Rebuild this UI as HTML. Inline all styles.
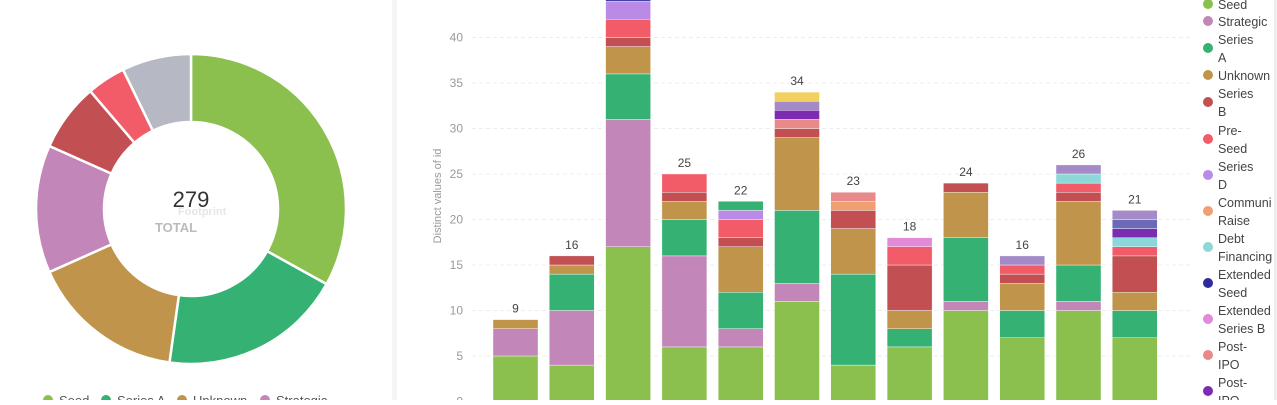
<!DOCTYPE html>
<html><head><meta charset="utf-8"><style>
body{margin:0;background:#fff;width:1277px;height:400px;overflow:hidden;font-family:"Liberation Sans",sans-serif}
</style></head><body>
<svg id="s" width="1277" height="400" xmlns="http://www.w3.org/2000/svg" font-family="Liberation Sans, sans-serif">
<rect x="0" y="0" width="1277" height="400" fill="#fff"/>
<rect x="392" y="0" width="5" height="400" fill="#f5f5f5"/>
<rect x="1274" y="0" width="3" height="400" fill="#eee"/>
</svg>
<script>
const s=document.getElementById('s');const NS='http://www.w3.org/2000/svg';
function el(t,a,txt){const e=document.createElementNS(NS,t);for(const k in a)e.setAttribute(k,a[k]);if(txt!=null)e.textContent=txt;s.appendChild(e);return e;}
const C={seed:'#8bc04f',str:'#c386b8',A:'#35b273',unk:'#c0944b',B:'#c24f52',pre:'#f25b68',D:'#b98ae6',com:'#f0a070',debt:'#8cd7d7',es:'#2c2c9c',eb:'#e08ad8',ipo:'#e88a8a',ipo2:'#7b2cb0',lav:'#a58ac8',yel:'#f2d060',gray:'#b6b9c4',blu:'#6a6ab8'};
const cx=191,cy=209,R=155,r=87;
const segs=[[0,119,C.seed],[119,188,C.A],[188,246,C.unk],[246,294,C.str],[294,319.5,C.B],[319.5,334,C.pre],[334,360,C.gray]];
function pt(a,rad){const t=(a-90)*Math.PI/180;return [cx+rad*Math.cos(t),cy+rad*Math.sin(t)];}
segs.forEach(([a0,a1,c])=>{const p1=pt(a0,R),p2=pt(a1,R),p3=pt(a1,r),p4=pt(a0,r);const l=(a1-a0)>180?1:0;
el('path',{d:`M${p1}A${R},${R} 0 ${l} 1 ${p2}L${p3}A${r},${r} 0 ${l} 0 ${p4}Z`,fill:c,stroke:'#fff','stroke-width':2.5});});
el('text',{x:191,y:207,'text-anchor':'middle','font-size':22,fill:'#333'},'279');
el('text',{x:176,y:232,'text-anchor':'middle','font-size':13,'font-weight':'bold',fill:'#bbb'},'TOTAL');
el('text',{x:178,y:215,'font-size':11,'font-weight':'bold',fill:'#e6e6e6'},'Footprint');
[[48,C.seed,'Seed'],[106,C.A,'Series A'],[182,C.unk,'Unknown'],[265,C.str,'Strategic']].forEach(([x,c,t])=>{el('circle',{cx:x,cy:400,r:5,fill:c});el('text',{x:x+11,y:405,'font-size':13,fill:'#555'},t);});
const y0=401.5,k=9.1;
for(let v=0;v<=40;v+=5){const y=y0-k*v;el('text',{x:463,y:y+4,'text-anchor':'end','font-size':12,fill:'#999'},v);
 el('line',{x1:472,x2:1190,y1:y,y2:y,stroke:'#ececec','stroke-dasharray':'4,3'});}
el('text',{x:0,y:0,transform:'translate(441,196) rotate(-90)','text-anchor':'middle','font-size':11,fill:'#999'},'Distinct values of id');
const bars=[
[['seed',5],['str',3],['unk',1]],
[['seed',4],['str',6],['A',4],['unk',1],['B',1]],
[['seed',17],['str',14],['A',5],['unk',3],['B',1],['pre',2],['D',2],['es',1]],
[['seed',6],['str',10],['A',4],['unk',2],['B',1],['pre',2]],
[['seed',6],['str',2],['A',4],['unk',5],['B',1],['pre',2],['D',1],['A',1]],
[['seed',11],['str',2],['A',8],['unk',8],['B',1],['ipo',1],['ipo2',1],['lav',1],['yel',1]],
[['seed',4],['A',10],['unk',5],['B',2],['com',1],['ipo',1]],
[['seed',6],['A',2],['unk',2],['B',5],['pre',2],['eb',1]],
[['seed',10],['str',1],['A',7],['unk',5],['B',1]],
[['seed',7],['A',3],['unk',3],['B',1],['pre',1],['lav',1]],
[['seed',10],['str',1],['A',4],['unk',7],['B',1],['pre',1],['debt',1],['lav',1]],
[['seed',7],['A',3],['unk',2],['B',4],['pre',1],['debt',1],['ipo2',1],['blu',1],['lav',1]]];
bars.forEach((b,i)=>{const x=493+i*56.3;let acc=0;b.forEach(([c,v])=>{el('rect',{x:x,y:y0-k*(acc+v),width:45,height:k*v,fill:C[c],stroke:'#fff','stroke-width':0.4});acc+=v;});
 if(i!==2)el('text',{x:x+22.5,y:y0-k*acc-7,'text-anchor':'middle','font-size':12,fill:'#444'},acc);});
const L=[[4,C.seed,['Seed']],[21,C.str,['Strategic']],[39,C.A,['Series','A']],[75,C.unk,['Unknown']],[93,C.B,['Series','B']],[130,C.pre,['Pre-','Seed']],[166,C.D,['Series','D']],[202,C.com,['Communi','Raise']],[238,C.debt,['Debt','Financing']],[274,C.es,['Extended','Seed']],[310,C.eb,['Extended','Series B']],[346,C.ipo,['Post-','IPO']],[382,C.ipo2,['Post-','IPO']]];
L.forEach(([y,c,ts])=>{const dy=ts.length>1?y+9:y;el('circle',{cx:1208,cy:dy,r:5,fill:c});ts.forEach((t,j)=>el('text',{x:1218,y:y+5+j*18,'font-size':12.5,fill:'#444'},t));});
</script>
</body></html>
